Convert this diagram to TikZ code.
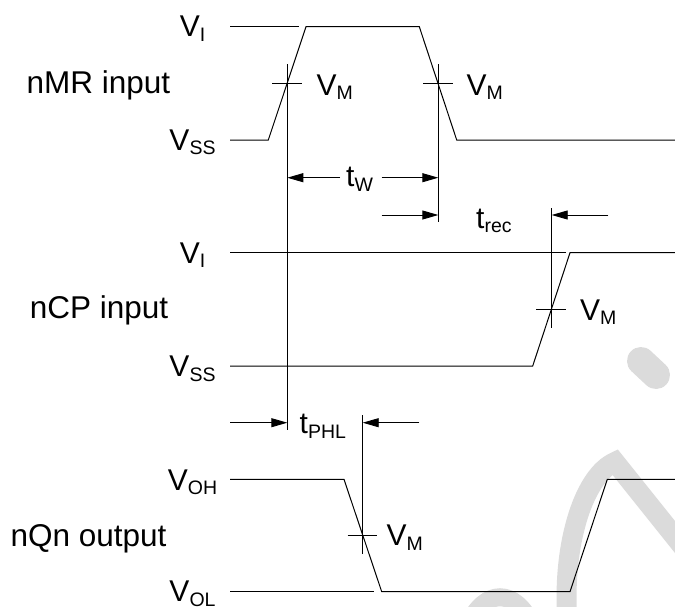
\documentclass[tikz,border=0pt]{standalone}
\usepackage{fontspec}
\setmainfont{Liberation Sans}
\usetikzlibrary{arrows.meta}
\newcommand{\sbs}[1]{\raisebox{-4.7pt}{\fontsize{19.5}{20}\selectfont #1}}
\begin{document}
\begin{tikzpicture}[x=1pt,y=-1pt,
  wave/.style={line width=1pt, line join=miter},
  guide/.style={line width=0.9pt},
  dimarrow/.style={line width=0.9pt,-{Triangle[length=16pt,width=9pt]}},
  lvl/.style={anchor=base, inner sep=0pt, font=\fontsize{30}{36}\selectfont},
  sig/.style={anchor=base east, inner sep=0pt, font=\fontsize{31.5}{38}\selectfont},
  vm/.style={anchor=base west, inner sep=0pt, font=\fontsize{30}{36}\selectfont},
  wm/.style={draw=black!14, line width=20pt}
]
\useasboundingbox (0,0) rectangle (675,606);
% watermark
\draw[wm, line width=28pt, line cap=round] (641,361) -- (656,375);
\draw[wm] (567,615) .. controls (563,540) and (585,475) .. (615,462) -- (695,562);
\draw[wm, line width=18pt] (468,625) .. controls (485,588) and (515,588) .. (532,625);
\draw[wm] (684,394) -- (705,424);

% nMR input
\coordinate (aI0) at (230,26.7); \coordinate (aI1) at (299,26.7);
\coordinate (a0) at (230,140); \coordinate (a1) at (268.3,140);
\coordinate (a2) at (306,26.7); \coordinate (a3) at (419.3,26.7);
\coordinate (a4) at (456.7,140); \coordinate (a5) at (676,140);
\draw[wave] (aI0) -- (aI1);
\draw[wave] (a0) -- (a1) -- (a2) -- (a3) -- (a4) -- (a5);

% nCP input
\coordinate (bI0) at (230,252.7); \coordinate (bI1) at (566,252.7);
\coordinate (b0) at (230,366); \coordinate (b1) at (532.7,366);
\coordinate (b2) at (570,252.7); \coordinate (b3) at (676,252.7);
\draw[wave] (bI0) -- (bI1);
\draw[wave] (b0) -- (b1) -- (b2) -- (b3);

% nQn output
\coordinate (cL0) at (230,591.7); \coordinate (cL1) at (374,591.7);
\coordinate (c0) at (230,479.3); \coordinate (c1) at (344,479.3);
\coordinate (c2) at (381.7,591.7); \coordinate (c3) at (570,591.7);
\coordinate (c4) at (607.3,479.3); \coordinate (c5) at (676,479.3);
\draw[wave] (cL0) -- (cL1);
\draw[wave] (c0) -- (c1) -- (c2) -- (c3) -- (c4) -- (c5);

% vertical guides
\coordinate (v1t) at (287.3,64.3); \coordinate (v1b) at (287.3,430);
\coordinate (v2t) at (438.3,64.3); \coordinate (v2b) at (438.3,222.3);
\coordinate (v3t) at (551.7,208.3); \coordinate (v3b) at (551.7,328.3);
\coordinate (v4t) at (362.7,415); \coordinate (v4b) at (362.7,554);
\draw[guide] (v1t) -- (v1b);
\draw[guide] (v2t) -- (v2b);
\draw[guide] (v3t) -- (v3b);
\draw[guide] (v4t) -- (v4b);

% VM ticks
\coordinate (k1a) at (272,83.3); \coordinate (k1b) at (302,83.3);
\coordinate (k2a) at (423,83.3); \coordinate (k2b) at (453.3,83.3);
\coordinate (k3a) at (536,309.3); \coordinate (k3b) at (566,309.3);
\coordinate (k4a) at (347.7,535.7); \coordinate (k4b) at (377.3,535.7);
\draw[guide] (k1a) -- (k1b);
\draw[guide] (k2a) -- (k2b);
\draw[guide] (k3a) -- (k3b);
\draw[guide] (k4a) -- (k4b);

% dimension arrows
\coordinate (w1) at (340,177.7); \coordinate (w1e) at (287.3,177.7);
\coordinate (w2) at (381.7,177.7); \coordinate (w2e) at (438.3,177.7);
\draw[dimarrow] (w1) -- (w1e);
\draw[dimarrow] (w2) -- (w2e);
\coordinate (r1) at (381.7,215); \coordinate (r1e) at (438.3,215);
\coordinate (r2) at (608.3,215); \coordinate (r2e) at (551.7,215);
\draw[dimarrow] (r1) -- (r1e);
\draw[dimarrow] (r2) -- (r2e);
\coordinate (p1) at (230,422.7); \coordinate (p1e) at (287.3,422.7);
\coordinate (p2) at (419.3,422.7); \coordinate (p2e) at (362.7,422.7);
\draw[dimarrow] (p1) -- (p1e);
\draw[dimarrow] (p2) -- (p2e);

% labels
\node[sig] (lmr) at (170.5,93.3) {nMR input};
\node[sig] (lcp) at (168.3,318.3) {nCP input};
\node[sig] (lqn) at (166.7,546.7) {nQn output};

\node[lvl] (la1) at (192.5,36.7) {V\sbs{I}};
\node[lvl] (la2) at (192.5,150) {V\sbs{SS}};
\node[lvl] (lb1) at (192.5,263) {V\sbs{I}};
\node[lvl] (lb2) at (192.5,376.5) {V\sbs{SS}};
\node[lvl] (lc1) at (192.5,490) {V\sbs{OH}};
\node[lvl] (lc2) at (192.5,601.7) {V\sbs{OL}};

\node[vm] (m1) at (316.5,95) {V\sbs{M}};
\node[vm] (m2) at (466.5,95) {V\sbs{M}};
\node[vm] (m3) at (580,320) {V\sbs{M}};
\node[vm] (m4) at (386.5,545.7) {V\sbs{M}};

\node[vm] (tw) at (346,186.7) {t\sbs{W}};
\node[vm] (tr) at (476,228) {t\sbs{rec}};
\node[vm] (tp) at (299.5,433.3) {t\sbs{PHL}};
\end{tikzpicture}
\end{document}
